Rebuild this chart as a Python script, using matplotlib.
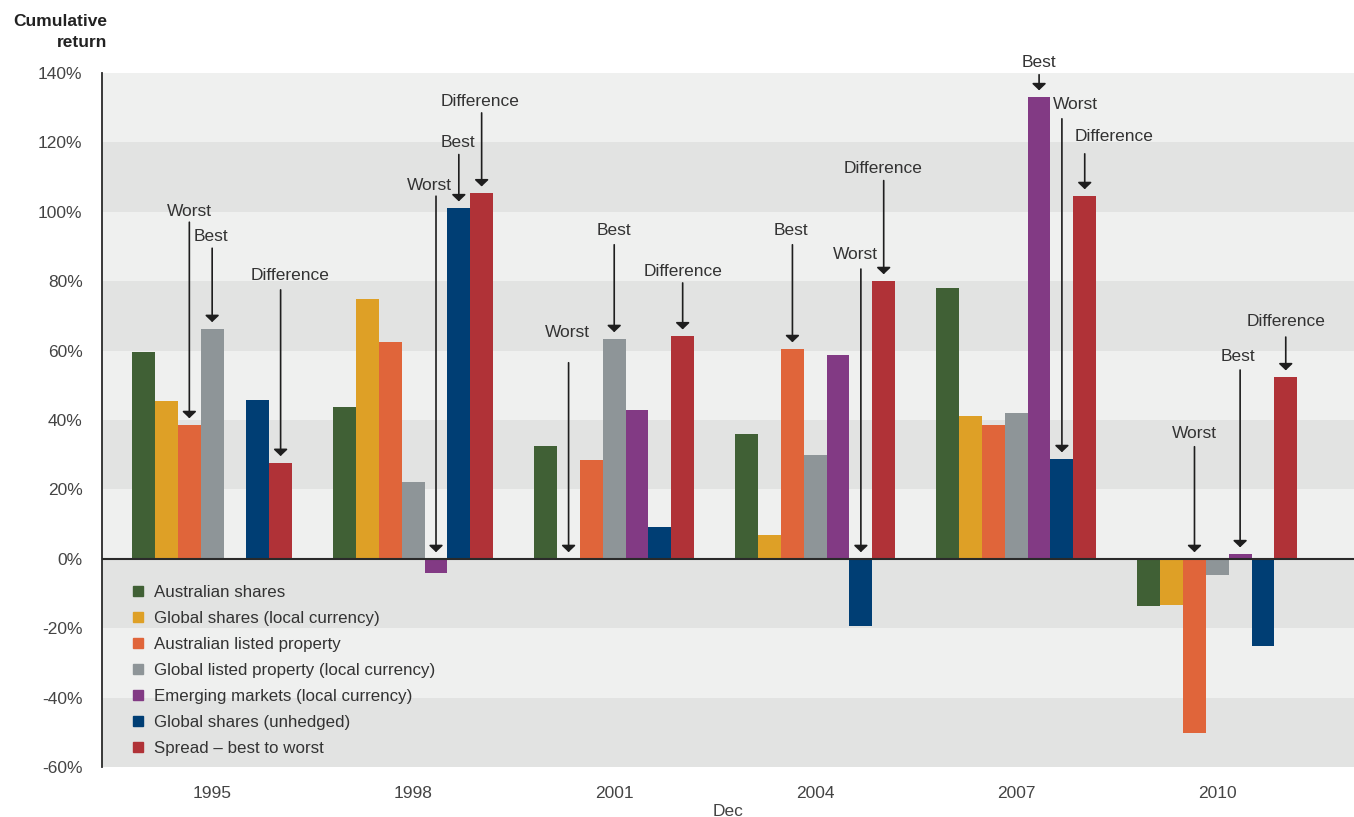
import numpy as np
import matplotlib
matplotlib.use("Agg")
import matplotlib.pyplot as plt
from matplotlib.lines import Line2D

plt.rcParams['font.family'] = ['Liberation Sans', 'DejaVu Sans']

# data (cumulative return, %)
years = ['1995', '1998', '2001', '2004', '2007', '2010']
series = ['Australian shares', 'Global shares (local currency)', 'Australian listed property',
          'Global listed property (local currency)', 'Emerging markets (local currency)',
          'Global shares (unhedged)', 'Spread \u2013 best to worst']
colors = ['#406035', '#dea026', '#e0653a', '#8e9598', '#823a84', '#003e74', '#b03237']

aus_shares = [59.6, 43.8, 32.6, 36.0, 78.1, -13.5]
glob_shares_local = [45.5, 74.9, 0.0, 6.9, 41.2, -13.3]
aus_property = [38.6, 62.5, 28.5, 60.5, 38.6, -50.3]
glob_property = [66.3, 22.2, 63.4, 30.0, 42.1, -4.8]
emerging = [np.nan, -4.0, 42.9, 58.8, 133.1, 1.4]
glob_shares_unhedged = [45.8, 101.1, 9.2, -19.3, 28.8, -25.0]
spread = [27.7, 105.4, 64.2, 80.1, 104.6, 52.4]
values = [aus_shares, glob_shares_local, aus_property, glob_property,
          emerging, glob_shares_unhedged, spread]

# annotations: (year index, series index, label, text y, text x shift in px, arrow start y)
notes = [
    (0, 2, 'Worst', 100.0, 0, 97.0),
    (0, 3, 'Best', 92.8, -1, 89.5),
    (0, 6, 'Difference', 81.5, 9, 77.5),
    (1, 4, 'Worst', 107.7, -7, 104.5),
    (1, 5, 'Best', 119.9, -1, 116.5),
    (1, 6, 'Difference', 131.9, -2, 128.5),
    (2, 1, 'Worst', 65.1, -1, 56.5),
    (2, 3, 'Best', 94.5, 0, 90.5),
    (2, 6, 'Difference', 82.7, 0, 79.5),
    (3, 2, 'Best', 94.5, -1, 90.5),
    (3, 5, 'Worst', 87.6, -5, 83.5),
    (3, 6, 'Difference', 112.4, -1, 109.0),
    (4, 4, 'Best', 142.9, 0, 139.5),
    (4, 5, 'Worst', 130.8, 14, 126.8),
    (4, 6, 'Difference', 121.6, 29, 116.7),
    (5, 2, 'Worst', 36.0, 0, 32.3),
    (5, 4, 'Best', 58.2, -2, 54.4),
    (5, 6, 'Difference', 68.3, 0, 63.9),
]

fig = plt.figure(figsize=(13.54, 8.17), dpi=100)
ax = fig.add_axes([102 / 1354, 1 - 767 / 817, 1 - 102 / 1354, (767 - 73) / 817])

# background bands
for i, lo in enumerate(range(-60, 140, 20)):
    ax.axhspan(lo, lo + 20, color='#e2e3e2' if i % 2 == 0 else '#eff0ef', lw=0, zorder=0)

x = np.arange(len(years))
w = 0.1135
for k, (vals, c) in enumerate(zip(values, colors)):
    ax.bar(x + (k - 3) * w, vals, width=w, color=c, zorder=2, label=series[k])

ax.axhline(0, color='#2a2a2a', lw=1.5, zorder=3)

px = 1 / 201.0
for g, s, label, ty, dx, ystart in notes:
    bx = x[g] + (s - 3) * w
    v = values[s][g]
    tip = max(0 if np.isnan(v) else v, 0) + 1.9
    ax.text(bx + dx * px, ty, label, ha='center', va='center', fontsize=12.5,
            color='#333333', zorder=5, clip_on=False)
    ax.annotate('', xy=(bx, tip), xytext=(bx, ystart),
                arrowprops=dict(arrowstyle='-|>,head_width=0.42,head_length=0.4',
                                color='#1e1e1e', lw=1.2, shrinkA=0, shrinkB=0),
                zorder=5, annotation_clip=False)

ax.set_xlim(-0.548, 5.68)
ax.set_ylim(-60, 140)
ax.set_yticks(range(-60, 141, 20))
ax.set_yticklabels([f'{t}%' for t in range(-60, 141, 20)])
ax.set_xticks(x)
ax.set_xticklabels(years)
ax.tick_params(axis='y', length=0, pad=14, labelsize=12.5, labelcolor='#444444')
ax.tick_params(axis='x', length=0, pad=14, labelsize=12.5, labelcolor='#444444')
for side in ['top', 'right', 'bottom']:
    ax.spines[side].set_visible(False)
ax.spines['left'].set_color('#2a2a2a')
ax.spines['left'].set_linewidth(1.3)

handles = [Line2D([], [], marker='s', ls='', markersize=7, color=c) for c in colors]
ax.legend(handles, series, loc='upper left', bbox_to_anchor=(0.018, 0.272), frameon=False,
          fontsize=12.2, handlelength=0.8, handletextpad=0.55, labelspacing=0.65,
          labelcolor='#333333', borderaxespad=0)

fig.text(107 / 1354, 1 - 32 / 817, 'Cumulative\nreturn', ha='right', va='center',
         multialignment='right', fontsize=12.5, fontweight='bold', color='#222222',
         linespacing=1.45)
fig.text(728 / 1354, 1 - 811 / 817, 'Dec', ha='center', va='center', fontsize=12.5,
         color='#444444')

fig.savefig('out.png', dpi=100)
